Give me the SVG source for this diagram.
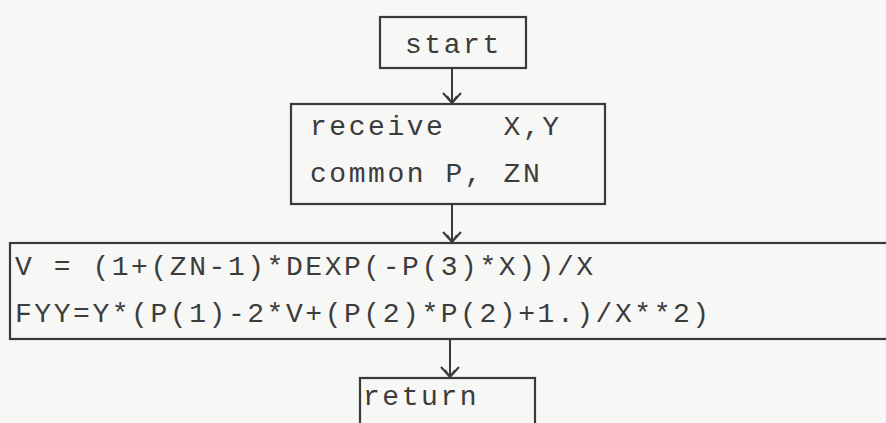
<svg xmlns="http://www.w3.org/2000/svg" width="886" height="423" viewBox="0 0 886 423">
<style>
.box{fill:none;stroke:#3a3a3a;stroke-width:2.2}
.conn{fill:none;stroke:#3a3a3a;stroke-width:2}
.t{font-family:"Liberation Mono","Courier New",monospace;font-size:28px;letter-spacing:2.55px;fill:#3c3c3c;white-space:pre}
</style>
<defs>
<marker id="arr" markerUnits="userSpaceOnUse" markerWidth="30" markerHeight="30" refX="15" refY="15" orient="auto">
<path d="M5,6 L15,15 L5,24 M8,10 L15,15 L8,20" fill="none" stroke="#3a3a3a" stroke-width="2"/>
</marker>
</defs>
<rect x="0" y="0" width="886" height="423" fill="#f7f7f5"/>
<g id="connectors">
<line class="conn" x1="452" y1="68" x2="452" y2="103" marker-end="url(#arr)"/>
<line class="conn" x1="452" y1="204" x2="452" y2="242" marker-end="url(#arr)"/>
<line class="conn" x1="450" y1="339" x2="450" y2="377" marker-end="url(#arr)"/>
</g>
<g id="start">
<rect class="box" x="380" y="17" width="146" height="51"/>
<text class="t" x="405" y="53">start</text>
</g>
<g id="receive">
<rect class="box" x="291" y="104" width="314" height="100"/>
<text class="t" x="310" y="135" xml:space="preserve">receive   X,Y</text>
<text class="t" x="310" y="182">common P, ZN</text>
</g>
<g id="compute">
<rect class="box" x="10" y="243" width="890" height="96"/>
<text class="t" x="15" y="275" xml:space="preserve">V = (1+(ZN-1)*DEXP(-P(3)*X))/X</text>
<text class="t" x="15" y="322">FYY=Y*(P(1)-2*V+(P(2)*P(2)+1.)/X**2)</text>
</g>
<g id="return">
<rect class="box" x="360" y="378" width="175" height="60"/>
<text class="t" x="363" y="405">return</text>
</g>
</svg>
